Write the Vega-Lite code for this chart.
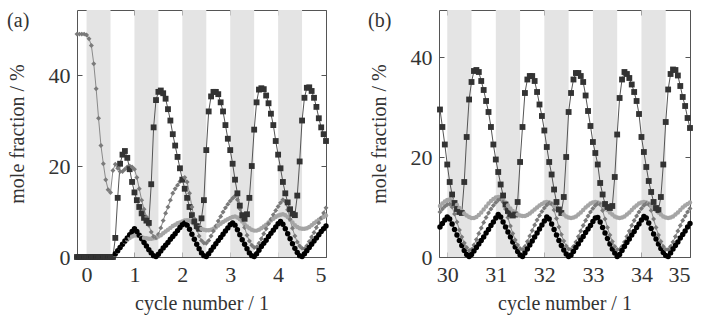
{
"$schema": "https://vega.github.io/schema/vega-lite/v6.json",
"padding": {"left": 6, "top": 9, "right": 5, "bottom": 5},
"background": "white",
"spacing": 37,
"config": {
  "font": "Liberation Serif",
  "view": {"stroke": "#555", "strokeWidth": 1},
  "axis": {"grid": false, "domain": false, "tickColor": "#555", "tickSize": -5, "labelPadding": 12, "labelFontSize": 22, "labelColor": "#333", "titleFontSize": 20, "titleFontWeight": "normal", "titleColor": "#333", "labelFont": "Liberation Serif", "titleFont": "Liberation Serif"}
},
"datasets": {
  "bandsA": [{"start": 0, "end": 0.5}, {"start": 1, "end": 1.5}, {"start": 2, "end": 2.5}, {"start": 3, "end": 3.5}, {"start": 4, "end": 4.5}],
  "bandsB": [{"start": 30, "end": 30.5}, {"start": 31, "end": 31.5}, {"start": 32, "end": 32.5}, {"start": 33, "end": 33.5}, {"start": 34, "end": 34.5}],
  "labelA": [{"label": "(a)"}],
  "labelB": [{"label": "(b)"}],
  "a": [
{"x":-0.2,"A":0,"B":0,"C":49,"D":0},
{"x":-0.15,"A":0,"B":0,"C":49,"D":0},
{"x":-0.1,"A":0,"B":0,"C":49,"D":0},
{"x":-0.05,"A":0,"B":0,"C":49,"D":0},
{"x":0,"A":0,"B":0,"C":48.8,"D":0},
{"x":0.05,"A":0,"B":0,"C":48,"D":0},
{"x":0.1,"A":0,"B":0,"C":46.5,"D":0},
{"x":0.15,"A":0,"B":0,"C":42.5,"D":0},
{"x":0.2,"A":0,"B":0,"C":37,"D":0},
{"x":0.25,"A":0,"B":0,"C":30.5,"D":0},
{"x":0.3,"A":0,"B":0,"C":24.5,"D":0},
{"x":0.35,"A":0,"B":0,"C":20.5,"D":0},
{"x":0.4,"A":0,"B":0,"C":17,"D":0},
{"x":0.45,"A":0,"B":0,"C":14.8,"D":0},
{"x":0.5,"A":0,"B":0,"C":14.2,"D":0},
{"x":0.55,"A":0,"B":0,"C":19,"D":0},
{"x":0.6,"A":4.2,"B":0.7,"C":20.4,"D":0.5},
{"x":0.65,"A":13,"B":1.4,"C":19.5,"D":1.2},
{"x":0.7,"A":20.5,"B":2.1,"C":18.8,"D":2.0},
{"x":0.75,"A":22.5,"B":2.8,"C":18.8,"D":2.7},
{"x":0.8,"A":23.3,"B":3.5,"C":19.3,"D":3.3},
{"x":0.85,"A":21.8,"B":4.2,"C":19.8,"D":3.8},
{"x":0.9,"A":19.3,"B":4.9,"C":20,"D":4.2},
{"x":0.95,"A":16.5,"B":5.6,"C":19.8,"D":4.5},
{"x":1.0,"A":14.2,"B":6.2,"C":19.3,"D":4.7},
{"x":1.05,"A":12.5,"B":5.6,"C":17.5,"D":4.7},
{"x":1.1,"A":11,"B":4.8,"C":15,"D":4.6},
{"x":1.15,"A":9.6,"B":4.0,"C":12.5,"D":4.4},
{"x":1.2,"A":8.6,"B":3.2,"C":10.5,"D":4.2},
{"x":1.25,"A":8,"B":2.4,"C":8.8,"D":4.1},
{"x":1.3,"A":7.5,"B":1.6,"C":7,"D":4.0},
{"x":1.35,"A":16,"B":0.9,"C":5.5,"D":4.0},
{"x":1.4,"A":28.5,"B":0.3,"C":4.5,"D":4.1},
{"x":1.45,"A":34.5,"B":0.1,"C":4.3,"D":4.2},
{"x":1.5,"A":36.3,"B":0.6,"C":5,"D":4.5},
{"x":1.55,"A":36.6,"B":1.3,"C":6.4,"D":4.8},
{"x":1.6,"A":36,"B":2.0,"C":8,"D":5.2},
{"x":1.65,"A":34.8,"B":2.6,"C":9.6,"D":5.6},
{"x":1.7,"A":32.5,"B":3.2,"C":11,"D":6.0},
{"x":1.75,"A":30,"B":3.9,"C":12.5,"D":6.4},
{"x":1.8,"A":27,"B":4.5,"C":14,"D":6.8},
{"x":1.85,"A":24.5,"B":5.1,"C":15,"D":7.1},
{"x":1.9,"A":22,"B":5.8,"C":15.8,"D":7.4},
{"x":1.95,"A":19.5,"B":6.5,"C":16.6,"D":7.6},
{"x":2.0,"A":17,"B":7.1,"C":17.2,"D":7.8},
{"x":2.05,"A":15,"B":7.5,"C":17.5,"D":8.0},
{"x":2.1,"A":13,"B":7.0,"C":16.5,"D":8.1},
{"x":2.15,"A":11,"B":6.1,"C":14,"D":8.0},
{"x":2.2,"A":9.2,"B":5.0,"C":11,"D":7.7},
{"x":2.25,"A":7.8,"B":3.9,"C":8.4,"D":7.3},
{"x":2.3,"A":6.8,"B":2.8,"C":6.2,"D":6.9},
{"x":2.35,"A":6.2,"B":1.8,"C":4.6,"D":6.5},
{"x":2.4,"A":8.5,"B":0.9,"C":3.6,"D":6.2},
{"x":2.45,"A":12.5,"B":0.3,"C":3.1,"D":6.0},
{"x":2.5,"A":23.5,"B":0.1,"C":3.0,"D":5.9},
{"x":2.55,"A":32,"B":0.7,"C":3.6,"D":5.9},
{"x":2.6,"A":35.3,"B":1.5,"C":4.6,"D":6.0},
{"x":2.65,"A":36.3,"B":2.2,"C":5.7,"D":6.2},
{"x":2.7,"A":36.3,"B":2.9,"C":6.8,"D":6.5},
{"x":2.75,"A":35.8,"B":3.6,"C":7.9,"D":6.9},
{"x":2.8,"A":34,"B":4.3,"C":8.9,"D":7.3},
{"x":2.85,"A":32,"B":5.0,"C":9.9,"D":7.7},
{"x":2.9,"A":29,"B":5.7,"C":10.8,"D":8.0},
{"x":2.95,"A":26,"B":6.4,"C":11.6,"D":8.3},
{"x":3.0,"A":23.5,"B":7.1,"C":12.3,"D":8.6},
{"x":3.05,"A":20.5,"B":7.5,"C":12.9,"D":8.8},
{"x":3.1,"A":17,"B":7.0,"C":13.4,"D":8.9},
{"x":3.15,"A":14,"B":6.0,"C":12.6,"D":8.7},
{"x":3.2,"A":11.3,"B":4.9,"C":10.6,"D":8.3},
{"x":3.25,"A":9.2,"B":3.8,"C":8.5,"D":7.8},
{"x":3.3,"A":8.4,"B":2.8,"C":6.5,"D":7.2},
{"x":3.35,"A":9.4,"B":1.8,"C":4.8,"D":6.7},
{"x":3.4,"A":13,"B":0.9,"C":3.5,"D":6.3},
{"x":3.45,"A":20,"B":0.3,"C":2.6,"D":6.0},
{"x":3.5,"A":28,"B":0.1,"C":2.1,"D":5.8},
{"x":3.55,"A":34,"B":0.7,"C":2.2,"D":5.8},
{"x":3.6,"A":36.8,"B":1.5,"C":3.0,"D":6.0},
{"x":3.65,"A":37.1,"B":2.3,"C":4.0,"D":6.3},
{"x":3.7,"A":36.9,"B":3.0,"C":5.1,"D":6.7},
{"x":3.75,"A":35.5,"B":3.7,"C":6.2,"D":7.1},
{"x":3.8,"A":33.8,"B":4.5,"C":7.3,"D":7.6},
{"x":3.85,"A":31.5,"B":5.2,"C":8.3,"D":8.0},
{"x":3.9,"A":29,"B":5.9,"C":9.3,"D":8.4},
{"x":3.95,"A":25.5,"B":6.6,"C":10.2,"D":8.8},
{"x":4.0,"A":22.5,"B":7.3,"C":11.1,"D":9.1},
{"x":4.05,"A":19.5,"B":7.8,"C":11.9,"D":9.3},
{"x":4.1,"A":16.5,"B":7.2,"C":12.6,"D":9.4},
{"x":4.15,"A":14,"B":6.2,"C":12.2,"D":9.2},
{"x":4.2,"A":12,"B":5.1,"C":10.4,"D":8.8},
{"x":4.25,"A":10.5,"B":4.0,"C":8.3,"D":8.2},
{"x":4.3,"A":9.5,"B":2.9,"C":6.3,"D":7.6},
{"x":4.35,"A":9.2,"B":1.9,"C":4.6,"D":7.0},
{"x":4.4,"A":13.5,"B":1.0,"C":3.3,"D":6.6},
{"x":4.45,"A":21,"B":0.3,"C":2.4,"D":6.3},
{"x":4.5,"A":30,"B":0.1,"C":1.9,"D":6.2},
{"x":4.55,"A":35,"B":0.7,"C":1.8,"D":6.2},
{"x":4.6,"A":37.2,"B":1.4,"C":2.5,"D":6.3},
{"x":4.65,"A":37.3,"B":2.1,"C":3.4,"D":6.6},
{"x":4.7,"A":36.5,"B":2.8,"C":4.4,"D":7.0},
{"x":4.75,"A":35,"B":3.5,"C":5.4,"D":7.4},
{"x":4.8,"A":33,"B":4.2,"C":6.5,"D":7.8},
{"x":4.85,"A":30.5,"B":4.9,"C":7.5,"D":8.2},
{"x":4.9,"A":28.5,"B":5.6,"C":8.6,"D":8.5},
{"x":4.95,"A":27,"B":6.2,"C":9.7,"D":8.8},
{"x":5.0,"A":25.5,"B":6.8,"C":10.8,"D":9.1}
  ],
  "b": [
{"x":29.85,"A":29.5,"B":6.0,"C":9.0,"D":10.2},
{"x":29.9,"A":26,"B":6.7,"C":9.6,"D":10.7},
{"x":29.95,"A":22.5,"B":7.4,"C":10.1,"D":11.1},
{"x":30.0,"A":18.5,"B":8.0,"C":10.5,"D":11.4},
{"x":30.05,"A":15,"B":7.6,"C":10.6,"D":11.5},
{"x":30.1,"A":12.5,"B":6.6,"C":10.0,"D":11.3},
{"x":30.15,"A":10.8,"B":5.5,"C":8.6,"D":10.9},
{"x":30.2,"A":9.6,"B":4.4,"C":7.0,"D":10.4},
{"x":30.25,"A":9,"B":3.3,"C":5.4,"D":9.8},
{"x":30.3,"A":8.8,"B":2.3,"C":4.0,"D":9.2},
{"x":30.35,"A":15,"B":1.3,"C":2.8,"D":8.7},
{"x":30.4,"A":24,"B":0.5,"C":1.9,"D":8.3},
{"x":30.45,"A":31.5,"B":0.1,"C":1.3,"D":8.0},
{"x":30.5,"A":35,"B":0.5,"C":1.5,"D":7.8},
{"x":30.55,"A":37.2,"B":1.2,"C":2.4,"D":7.8},
{"x":30.6,"A":37.4,"B":1.9,"C":3.5,"D":8.0},
{"x":30.65,"A":37,"B":2.6,"C":4.7,"D":8.4},
{"x":30.7,"A":35.2,"B":3.3,"C":5.8,"D":8.9},
{"x":30.75,"A":33.4,"B":4.0,"C":6.9,"D":9.5},
{"x":30.8,"A":31.2,"B":4.8,"C":7.9,"D":10.1},
{"x":30.85,"A":29,"B":5.5,"C":8.8,"D":10.7},
{"x":30.9,"A":26,"B":6.3,"C":9.6,"D":11.2},
{"x":30.95,"A":22.5,"B":7.0,"C":10.3,"D":11.6},
{"x":31.0,"A":19.5,"B":7.8,"C":10.9,"D":11.9},
{"x":31.05,"A":17,"B":8.5,"C":11.4,"D":12.0},
{"x":31.1,"A":14.5,"B":8.0,"C":11.6,"D":11.9},
{"x":31.15,"A":12.3,"B":7.0,"C":11.0,"D":11.5},
{"x":31.2,"A":10.5,"B":6.0,"C":9.6,"D":10.9},
{"x":31.25,"A":9.2,"B":5.0,"C":7.9,"D":10.3},
{"x":31.3,"A":8.6,"B":4.0,"C":6.2,"D":9.7},
{"x":31.35,"A":8.3,"B":3.0,"C":4.7,"D":9.2},
{"x":31.4,"A":8.5,"B":2.0,"C":3.4,"D":8.8},
{"x":31.45,"A":11,"B":1.1,"C":2.4,"D":8.5},
{"x":31.5,"A":19,"B":0.4,"C":1.7,"D":8.3},
{"x":31.55,"A":26,"B":0.1,"C":1.5,"D":8.2},
{"x":31.6,"A":32.8,"B":0.8,"C":2.1,"D":8.2},
{"x":31.65,"A":35.5,"B":1.6,"C":3.1,"D":8.4},
{"x":31.7,"A":36.2,"B":2.4,"C":4.2,"D":8.7},
{"x":31.75,"A":36.2,"B":3.2,"C":5.3,"D":9.1},
{"x":31.8,"A":35.2,"B":4.0,"C":6.4,"D":9.5},
{"x":31.85,"A":33,"B":4.8,"C":7.4,"D":9.9},
{"x":31.9,"A":30.5,"B":5.6,"C":8.3,"D":10.3},
{"x":31.95,"A":28.2,"B":6.4,"C":9.1,"D":10.6},
{"x":32.0,"A":25.3,"B":7.2,"C":9.8,"D":10.9},
{"x":32.05,"A":22,"B":8.0,"C":10.4,"D":11.0},
{"x":32.1,"A":19,"B":7.6,"C":10.8,"D":10.9},
{"x":32.15,"A":16.5,"B":6.6,"C":10.6,"D":10.7},
{"x":32.2,"A":13.5,"B":5.5,"C":9.4,"D":10.3},
{"x":32.25,"A":11,"B":4.4,"C":7.7,"D":9.9},
{"x":32.3,"A":9.5,"B":3.3,"C":6.0,"D":9.4},
{"x":32.35,"A":8.8,"B":2.3,"C":4.5,"D":8.9},
{"x":32.4,"A":12,"B":1.4,"C":3.2,"D":8.5},
{"x":32.45,"A":20,"B":0.6,"C":2.2,"D":8.1},
{"x":32.5,"A":29,"B":0.1,"C":1.6,"D":7.9},
{"x":32.55,"A":32.8,"B":0.4,"C":1.5,"D":7.8},
{"x":32.6,"A":35.5,"B":1.1,"C":2.1,"D":7.9},
{"x":32.65,"A":36.8,"B":1.9,"C":3.0,"D":8.1},
{"x":32.7,"A":36.8,"B":2.6,"C":4.1,"D":8.5},
{"x":32.75,"A":36.2,"B":3.4,"C":5.2,"D":8.9},
{"x":32.8,"A":35,"B":4.1,"C":6.3,"D":9.4},
{"x":32.85,"A":32.3,"B":4.9,"C":7.3,"D":9.9},
{"x":32.9,"A":29.2,"B":5.6,"C":8.2,"D":10.3},
{"x":32.95,"A":26.2,"B":6.3,"C":9.0,"D":10.7},
{"x":33.0,"A":23,"B":7.1,"C":9.7,"D":10.9},
{"x":33.05,"A":20.8,"B":7.8,"C":10.3,"D":11.0},
{"x":33.1,"A":18.5,"B":7.9,"C":10.7,"D":10.9},
{"x":33.15,"A":14.8,"B":7.0,"C":10.5,"D":10.7},
{"x":33.2,"A":12.5,"B":5.9,"C":9.3,"D":10.3},
{"x":33.25,"A":10.6,"B":4.8,"C":7.6,"D":9.9},
{"x":33.3,"A":10,"B":3.7,"C":5.9,"D":9.4},
{"x":33.35,"A":9.8,"B":2.6,"C":4.4,"D":8.9},
{"x":33.4,"A":10.2,"B":1.6,"C":3.1,"D":8.5},
{"x":33.45,"A":16,"B":0.8,"C":2.1,"D":8.1},
{"x":33.5,"A":24.5,"B":0.1,"C":1.5,"D":7.9},
{"x":33.55,"A":31.8,"B":0.5,"C":1.5,"D":7.8},
{"x":33.6,"A":35.5,"B":1.3,"C":2.1,"D":7.9},
{"x":33.65,"A":37,"B":2.1,"C":3.0,"D":8.1},
{"x":33.7,"A":36.6,"B":2.9,"C":4.1,"D":8.5},
{"x":33.75,"A":35.8,"B":3.6,"C":5.2,"D":8.9},
{"x":33.8,"A":34.5,"B":4.4,"C":6.3,"D":9.4},
{"x":33.85,"A":33,"B":5.1,"C":7.3,"D":9.9},
{"x":33.9,"A":31.2,"B":5.9,"C":8.2,"D":10.3},
{"x":33.95,"A":28.6,"B":6.6,"C":9.0,"D":10.7},
{"x":34.0,"A":24,"B":7.4,"C":9.7,"D":10.9},
{"x":34.05,"A":21,"B":8.1,"C":10.3,"D":11.0},
{"x":34.1,"A":18,"B":7.8,"C":10.7,"D":10.9},
{"x":34.15,"A":15.2,"B":6.8,"C":10.5,"D":10.7},
{"x":34.2,"A":13,"B":5.7,"C":9.3,"D":10.3},
{"x":34.25,"A":11,"B":4.6,"C":7.6,"D":9.9},
{"x":34.3,"A":9.8,"B":3.6,"C":5.9,"D":9.4},
{"x":34.35,"A":9.4,"B":2.6,"C":4.4,"D":8.9},
{"x":34.4,"A":12,"B":1.7,"C":3.1,"D":8.5},
{"x":34.45,"A":18.5,"B":0.9,"C":2.1,"D":8.1},
{"x":34.5,"A":27,"B":0.3,"C":1.5,"D":7.9},
{"x":34.55,"A":33.5,"B":0.1,"C":1.5,"D":7.8},
{"x":34.6,"A":36.6,"B":0.8,"C":2.1,"D":7.9},
{"x":34.65,"A":37.5,"B":1.6,"C":3.0,"D":8.1},
{"x":34.7,"A":37.4,"B":2.3,"C":4.1,"D":8.5},
{"x":34.75,"A":36.3,"B":3.0,"C":5.2,"D":8.9},
{"x":34.8,"A":34.2,"B":3.8,"C":6.3,"D":9.4},
{"x":34.85,"A":32,"B":4.5,"C":7.3,"D":9.9},
{"x":34.9,"A":30.2,"B":5.2,"C":8.2,"D":10.3},
{"x":34.95,"A":27.8,"B":6.0,"C":9.0,"D":10.6},
{"x":35.0,"A":25.8,"B":6.7,"C":9.7,"D":10.9}
  ]
},
"hconcat": [
  {
    "width": 249, "height": 247,
    "layer": [
      {"data": {"name": "bandsA"}, "mark": {"type": "rect", "color": "#e4e4e4"},
       "encoding": {
         "x": {"field": "start", "type": "quantitative", "scale": {"domain": [-0.2, 5], "nice": false, "zero": false}, "axis": {"values": [0,1,2,3,4,5], "title": "cycle number / 1", "titlePadding": 8}},
         "x2": {"field": "end"}}},
      {"data": {"name": "a"}, "transform": [{"fold": ["D","C","B","A"], "as": ["s","y"]}],
       "mark": {"type": "line", "strokeWidth": 1},
       "encoding": {
         "x": {"field": "x", "type": "quantitative", "scale": {"domain": [-0.2, 5], "nice": false, "zero": false}, "axis": null},
         "y": {"field": "y", "type": "quantitative", "scale": {"domain": [0, 54.3], "nice": false}, "axis": {"values": [0,20,40], "title": "mole fraction / %", "titlePadding": 21}},
         "stroke": {"field": "s", "type": "nominal", "scale": {"domain": ["A","B","C","D"], "range": ["#555555","#000000","#8a8a8a","#b0b0b0"]}, "legend": null}}},
      {"data": {"name": "a"}, "transform": [{"fold": ["D","C","B","A"], "as": ["s","y"]}],
       "mark": {"type": "point", "filled": true, "strokeWidth": 0, "opacity": 1},
       "encoding": {
         "x": {"field": "x", "type": "quantitative", "scale": {"domain": [-0.2, 5], "nice": false, "zero": false}, "axis": {"orient": "top", "values": [0,1,2,3,4,5], "labels": false, "title": null}},
         "y": {"field": "y", "type": "quantitative", "scale": {"domain": [0, 54.3], "nice": false}, "axis": {"orient": "right", "values": [0,20,40], "labels": false, "title": null}},
         "fill": {"field": "s", "type": "nominal", "scale": {"domain": ["A","B","C","D"], "range": ["#333333","#000000","#7a7a7a","#a5a5a5"]}, "legend": null},
         "shape": {"field": "s", "type": "nominal", "scale": {"domain": ["A","B","C","D"], "range": ["square","circle","diamond","circle"]}, "legend": null},
         "size": {"field": "s", "type": "nominal", "scale": {"domain": ["A","B","C","D"], "range": [34,20,12,9]}, "legend": null}}},
      {"data": {"name": "labelA"},
       "mark": {"type": "text", "align": "left", "baseline": "top", "fontSize": 20, "color": "#333", "font": "Liberation Serif", "clip": false},
       "encoding": {
         "text": {"field": "label", "type": "nominal"},
         "x": {"datum": -1.66, "type": "quantitative", "scale": {"domain": [-0.2, 5], "nice": false, "zero": false}, "axis": null},
         "y": {"datum": 54.1, "type": "quantitative", "scale": {"domain": [0, 54.3], "nice": false}, "axis": null}}}
    ],
    "resolve": {"axis": {"x": "independent", "y": "independent"}}
  },
  {
    "width": 251, "height": 247,
    "layer": [
      {"data": {"name": "bandsB"}, "mark": {"type": "rect", "color": "#e4e4e4"},
       "encoding": {
         "x": {"field": "start", "type": "quantitative", "scale": {"domain": [29.83, 35], "nice": false, "zero": false}, "axis": {"values": [30,31,32,33,34,35], "title": "cycle number / 1", "titlePadding": 8}},
         "x2": {"field": "end"}}},
      {"data": {"name": "b"}, "transform": [{"fold": ["D","C","B","A"], "as": ["s","y"]}],
       "mark": {"type": "line", "strokeWidth": 1},
       "encoding": {
         "x": {"field": "x", "type": "quantitative", "scale": {"domain": [29.83, 35], "nice": false, "zero": false}, "axis": null},
         "y": {"field": "y", "type": "quantitative", "scale": {"domain": [0, 49.4], "nice": false}, "axis": {"values": [0,20,40], "title": "mole fraction / %", "titlePadding": 21}},
         "stroke": {"field": "s", "type": "nominal", "scale": {"domain": ["A","B","C","D"], "range": ["#555555","#000000","#8a8a8a","#b0b0b0"]}, "legend": null}}},
      {"data": {"name": "b"}, "transform": [{"fold": ["D","C","B","A"], "as": ["s","y"]}],
       "mark": {"type": "point", "filled": true, "strokeWidth": 0, "opacity": 1},
       "encoding": {
         "x": {"field": "x", "type": "quantitative", "scale": {"domain": [29.83, 35], "nice": false, "zero": false}, "axis": {"orient": "top", "values": [30,31,32,33,34,35], "labels": false, "title": null}},
         "y": {"field": "y", "type": "quantitative", "scale": {"domain": [0, 49.4], "nice": false}, "axis": {"orient": "right", "values": [0,20,40], "labels": false, "title": null}},
         "fill": {"field": "s", "type": "nominal", "scale": {"domain": ["A","B","C","D"], "range": ["#333333","#000000","#7a7a7a","#a5a5a5"]}, "legend": null},
         "shape": {"field": "s", "type": "nominal", "scale": {"domain": ["A","B","C","D"], "range": ["square","circle","diamond","circle"]}, "legend": null},
         "size": {"field": "s", "type": "nominal", "scale": {"domain": ["A","B","C","D"], "range": [34,20,12,9]}, "legend": null}}},
      {"data": {"name": "labelB"},
       "mark": {"type": "text", "align": "left", "baseline": "top", "fontSize": 20, "color": "#333", "font": "Liberation Serif", "clip": false},
       "encoding": {
         "text": {"field": "label", "type": "nominal"},
         "x": {"datum": 28.37, "type": "quantitative", "scale": {"domain": [29.83, 35], "nice": false, "zero": false}, "axis": null},
         "y": {"datum": 49.2, "type": "quantitative", "scale": {"domain": [0, 49.4], "nice": false}, "axis": null}}}
    ],
    "resolve": {"axis": {"x": "independent", "y": "independent"}}
  }
]
}
